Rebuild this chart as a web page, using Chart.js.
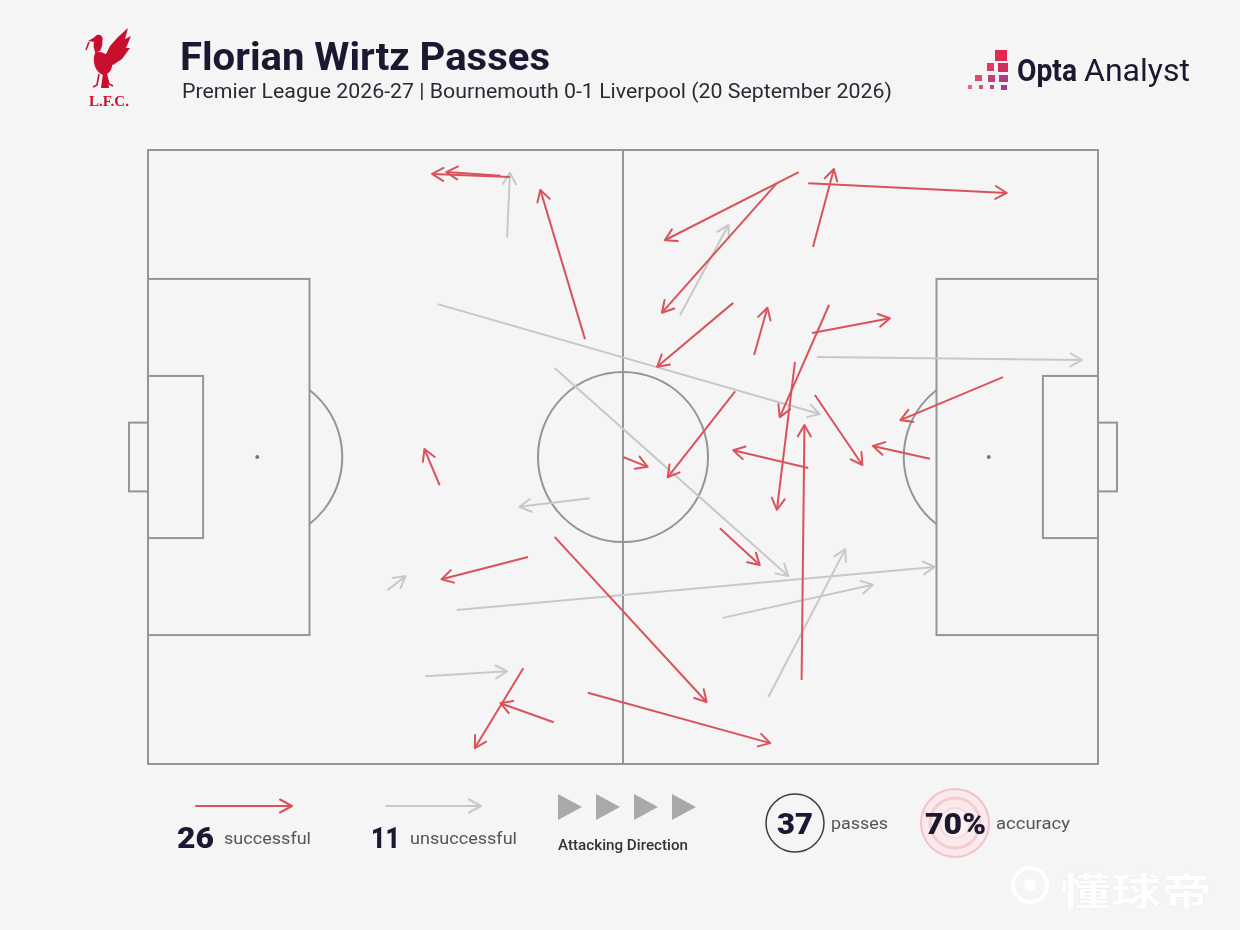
<!DOCTYPE html>
<html><head><meta charset="utf-8">
<script src="https://cdn.jsdelivr.net/npm/chart.js@4.4.1/dist/chart.umd.min.js"></script>
<style>
html,body{margin:0;padding:0;background:#f5f5f5;width:1240px;height:930px;overflow:hidden;position:relative;}
#c{position:absolute;left:0;top:0;}
svg{position:absolute;left:0;top:0;}
.t{position:absolute;white-space:nowrap;font-family:Roboto,"Noto Sans",sans-serif;line-height:1;transform-origin:0 0;}
</style></head><body>
<canvas id="c" width="1240" height="930"></canvas>
<svg width="1240" height="930" xmlns="http://www.w3.org/2000/svg">
  <!-- LFC liver bird (approximate) -->
  <g fill="#c8102e">
    <path d="M104,58 L110,46 L118,37 L128,28 L125,39 L131,36 L126,48 L130,48 L122,59 L113,65 Z"/>
    <path d="M96,51 C91,60 95,72 103,75 C110,75 114,67 112,58 C108,54 101,52 96,51 Z"/>
    <path d="M95,52 C93,46 93,42 96,39 L102,40 C103,43 102,47 100,51 Z"/>
    <circle cx="98.5" cy="39" r="4.2"/>
    <path d="M95,37 L88,41 L95,42 Z"/>
    <path d="M103,73 L101,88 L109,88 L107,73 Z"/>
  </g>
  <g stroke="#c8102e" stroke-width="1.6" fill="none">
    <path d="M99,74 L97,85 L93,87"/>
    <path d="M106,74 L109,84 L113,86"/>
    <path d="M89,42 L86,50"/>
  </g>
  <!-- Opta squares -->
  <rect x="995" y="50" width="12" height="11" fill="#e4284f"/>
  <rect x="987" y="63" width="7" height="8" fill="#e23a5c"/>
  <rect x="998" y="63" width="10" height="9" fill="#d42c62"/>
  <rect x="975" y="75" width="7" height="6" fill="#e24a6c"/>
  <rect x="988" y="75" width="7" height="7" fill="#c8387c"/>
  <rect x="999" y="75" width="9" height="7" fill="#b23a8c"/>
  <rect x="968" y="85" width="4" height="4" fill="#e46a8a"/>
  <rect x="979" y="85" width="4" height="4" fill="#d0508a"/>
  <rect x="990" y="85" width="4" height="4" fill="#b8468e"/>
  <rect x="1001" y="85" width="6" height="5" fill="#9a3f95"/>
  <!-- legend arrows -->
  <g stroke-width="2" fill="none" stroke-linecap="round" stroke-linejoin="round">
    <path d="M196,806 L292,806 M280,799.5 L292,806 L280,812.5" stroke="#d9535b"/>
    <path d="M386,806 L481,806 M469,799.5 L481,806 L469,812.5" stroke="#c8c8c8"/>
  </g>
  <g fill="#a9a9a9">
    <path d="M558,794 L582,807 L558,820 Z"/>
    <path d="M596,794 L620,807 L596,820 Z"/>
    <path d="M634,794 L658,807 L634,820 Z"/>
    <path d="M672,794 L696,807 L672,820 Z"/>
  </g>
  <circle cx="795" cy="823" r="29" fill="none" stroke="#3a3a48" stroke-width="1.5"/>
  <circle cx="955" cy="823" r="34" fill="#fbeaec" stroke="#f1c3c8" stroke-width="2"/>
  <circle cx="955" cy="823" r="25" fill="#fbeaec" stroke="#f3cdd1" stroke-width="3"/>
  <circle cx="955" cy="823" r="15" fill="#fdf1f2" stroke="#f6d9dc" stroke-width="2"/>
  <!-- watermark ball icon -->
  <circle cx="1030" cy="885" r="17" fill="none" stroke="#ffffff" stroke-width="4" opacity="0.95"/>
  <circle cx="1030" cy="885" r="6" fill="#ffffff" opacity="0.95"/>
</svg>
<script>
// ---- Pass data (Opta-style pitch coordinates: x 0-100 attacking left->right, y 0-100 top->bottom)
const passX1 = [38.1, 37.1, 46.0, 30.7, 50.0, 61.8, 66.2, 61.6, 68.5, 70.0, 69.5, 63.8, 71.7, 68.1, 69.9, 90.0, 70.2, 82.3, 69.5, 68.8, 60.2, 42.8, 46.3, 40.0, 39.5, 42.7,
                37.8, 30.5, 42.8, 46.5, 56.0, 70.4, 32.5, 60.5, 65.3, 25.2, 29.2];
const passY1 = [4.4, 4.2, 30.8, 54.6, 50.0, 39.3, 5.4, 24.9, 3.6, 15.8, 5.4, 33.4, 25.2, 34.5, 29.8, 37.0, 39.9, 50.3, 51.8, 86.3, 61.6, 63.0, 88.4, 66.3, 84.4, 93.2,
                14.3, 25.1, 35.5, 56.7, 26.9, 33.7, 74.9, 76.2, 89.1, 71.7, 85.7];
const passX2 = [29.9, 31.4, 41.3, 29.1, 52.6, 54.7, 54.1, 53.6, 54.4, 72.2, 90.4, 65.2, 66.5, 66.2, 78.1, 79.2, 75.2, 76.3, 61.6, 69.1, 64.4, 58.8, 65.5, 30.9, 34.4, 37.1,
                38.1, 70.7, 67.4, 39.1, 61.1, 98.3, 82.8, 76.3, 73.4, 27.1, 37.8];
const passY2 = [3.9, 3.6, 6.5, 48.7, 51.6, 53.3, 26.5, 35.3, 14.7, 3.1, 7.0, 25.7, 43.5, 58.6, 27.4, 44.0, 51.3, 48.2, 48.9, 44.8, 67.6, 89.9, 96.6, 69.9, 97.4, 90.1,
                3.7, 43.0, 69.4, 58.1, 12.2, 34.2, 67.9, 70.8, 65.0, 69.4, 84.9];
const passOutcome = [1,1,1,1,1,1,1,1,1,1,1,1,1,1,1,1,1,1,1,1,1,1,1,1,1,1,
                     0,0,0,0,0,0,0,0,0,0,0];
const successfulCount = passOutcome.filter(v => v === 1).length;
const unsuccessfulCount = passOutcome.length - successfulCount;
const totalPasses = passOutcome.length;
const accuracyPct = Math.round(successfulCount / totalPasses * 100);

const RED = '#d9535b', GREY = '#c8c8c8';

const datasets = passX1.map((_, i) => ({
  data: [{x: passX1[i], y: passY1[i]}, {x: passX2[i], y: passY2[i]}],
  borderColor: passOutcome[i] ? RED : GREY,
  borderWidth: 2,
  pointRadius: 0,
  pointHoverRadius: 0,
  showLine: true,
  fill: false,
  tension: 0,
  order: passOutcome[i] ? 0 : 1
}));

const pitchPlugin = {
  id: 'pitch',
  beforeDatasetsDraw(chart) {
    const {ctx, scales: {x, y}} = chart;
    const X = v => x.getPixelForValue(v), Y = v => y.getPixelForValue(v);
    ctx.save();
    ctx.strokeStyle = '#959595';
    ctx.lineWidth = 2;
    const rect = (a, b, c, d) => ctx.strokeRect(X(a), Y(b), X(c) - X(a), Y(d) - Y(b));
    rect(0, 0, 100, 100);
    ctx.beginPath(); ctx.moveTo(X(50), Y(0)); ctx.lineTo(X(50), Y(100)); ctx.stroke();
    rect(0, 21, 17, 79); rect(83, 21, 100, 79);
    rect(0, 36.8, 5.8, 63.2); rect(94.2, 36.8, 100, 63.2);
    rect(-2, 44.4, 0, 55.6); rect(100, 44.4, 102, 55.6);
    const r = X(58.95) - X(50);
    ctx.beginPath(); ctx.arc(X(50), Y(50), r, 0, Math.PI * 2); ctx.stroke();
    const th = Math.acos((X(17) - X(11.5)) / r);
    ctx.beginPath(); ctx.arc(X(11.5), Y(50), r, -th, th); ctx.stroke();
    ctx.beginPath(); ctx.arc(X(88.5), Y(50), r, Math.PI - th, Math.PI + th); ctx.stroke();
    ctx.fillStyle = '#777';
    [11.5, 88.5].forEach(px => { ctx.beginPath(); ctx.arc(X(px), Y(50), 2, 0, Math.PI * 2); ctx.fill(); });
    ctx.restore();
  }
};

const arrowPlugin = {
  id: 'arrowheads',
  afterDatasetDraw(chart, args) {
    const pts = args.meta.data;
    if (!pts || pts.length < 2) return;
    const ds = chart.data.datasets[args.index];
    const a = pts[0], b = pts[1];
    const ang = Math.atan2(b.y - a.y, b.x - a.x);
    const L = 13, sp = 0.52;
    const ctx = chart.ctx;
    ctx.save();
    ctx.strokeStyle = ds.borderColor;
    ctx.lineWidth = 2;
    ctx.lineCap = 'round'; ctx.lineJoin = 'round';
    ctx.beginPath();
    ctx.moveTo(b.x - L * Math.cos(ang - sp), b.y - L * Math.sin(ang - sp));
    ctx.lineTo(b.x, b.y);
    ctx.lineTo(b.x - L * Math.cos(ang + sp), b.y - L * Math.sin(ang + sp));
    ctx.stroke();
    ctx.restore();
  }
};

new Chart(document.getElementById('c'), {
  type: 'scatter',
  data: { datasets },
  options: {
    responsive: false,
    animation: false,
    events: [],
    layout: { padding: { left: 148, top: 150, right: 142, bottom: 166 } },
    plugins: { legend: { display: false }, tooltip: { enabled: false } },
    scales: {
      x: { type: 'linear', min: 0, max: 100, display: false },
      y: { type: 'linear', min: 0, max: 100, reverse: true, display: false }
    }
  },
  plugins: [pitchPlugin, arrowPlugin]
});

// ---- Text
const NAVY = '#1b1931';
const texts = [
  {s: 'Florian Wirtz Passes', x: 180, b: 70, f: 38, w: 700, c: NAVY, tw: 370},
  {s: 'Premier League 2026-27 | Bournemouth 0-1 Liverpool (20 September 2026)', x: 182, b: 98, f: 20, w: 400, c: '#2a2a35', tw: 710},
  {s: 'Opta', x: 1017, b: 81, f: 31, w: 700, c: NAVY, tw: 60},
  {s: 'Analyst', x: 1084, b: 81, f: 31, w: 400, c: NAVY, tw: 106},
  {s: 'L.F.C.', x: 89, b: 107, f: 14, w: 700, c: '#c8102e', tw: 40, ff: '"Liberation Serif",serif'},
  {s: String(successfulCount), x: 177, b: 848, f: 29, w: 900, c: NAVY, tw: 37},
  {s: 'successful', x: 224, b: 844, f: 17, w: 400, c: '#555', tw: 87},
  {s: String(unsuccessfulCount), x: 371, b: 848, f: 29, w: 900, c: NAVY, tw: 29},
  {s: 'unsuccessful', x: 410, b: 844, f: 17, w: 400, c: '#555', tw: 107},
  {s: 'Attacking Direction', x: 558, b: 850, f: 14, w: 500, c: '#333', tw: 130},
  {s: String(totalPasses), x: 777, b: 834, f: 29, w: 900, c: NAVY, tw: 36},
  {s: 'passes', x: 831, b: 829, f: 17, w: 400, c: '#555', tw: 57},
  {s: accuracyPct + '%', x: 925, b: 834, f: 29, w: 900, c: NAVY, tw: 61},
  {s: 'accuracy', x: 996, b: 829, f: 17, w: 400, c: '#555', tw: 74},
  {s: '懂球帝', x: 1060, b: 902, f: 38, w: 700, c: 'rgba(255,255,255,0.95)', tw: 152, ff: '"Noto Sans CJK SC",sans-serif', sh: true}
];
const els = texts.map(t => {
  const d = document.createElement('div');
  d.className = 't';
  d.textContent = t.s;
  d.style.fontSize = t.f + 'px';
  d.style.fontWeight = t.w;
  d.style.color = t.c;
  if (t.ff) d.style.fontFamily = t.ff;
  if (t.sh) d.style.textShadow = '0 0 1px rgba(0,0,0,0.12)';
  document.body.appendChild(d);
  return d;
});
function layoutText() {
  texts.forEach((t, i) => {
    const d = els[i];
    d.style.transform = 'none';
    const asc = t.f * 0.927 - (t.f * 1.171 - t.f) / 2;
    d.style.top = (t.b - asc) + 'px';
    d.style.left = t.x + 'px';
    const W = d.getBoundingClientRect().width;
    if (t.tw && W > 0) d.style.transform = 'scaleX(' + (t.tw / W).toFixed(4) + ')';
  });
}
layoutText();
if (document.fonts && document.fonts.ready) document.fonts.ready.then(layoutText);
</script>
</body></html>
